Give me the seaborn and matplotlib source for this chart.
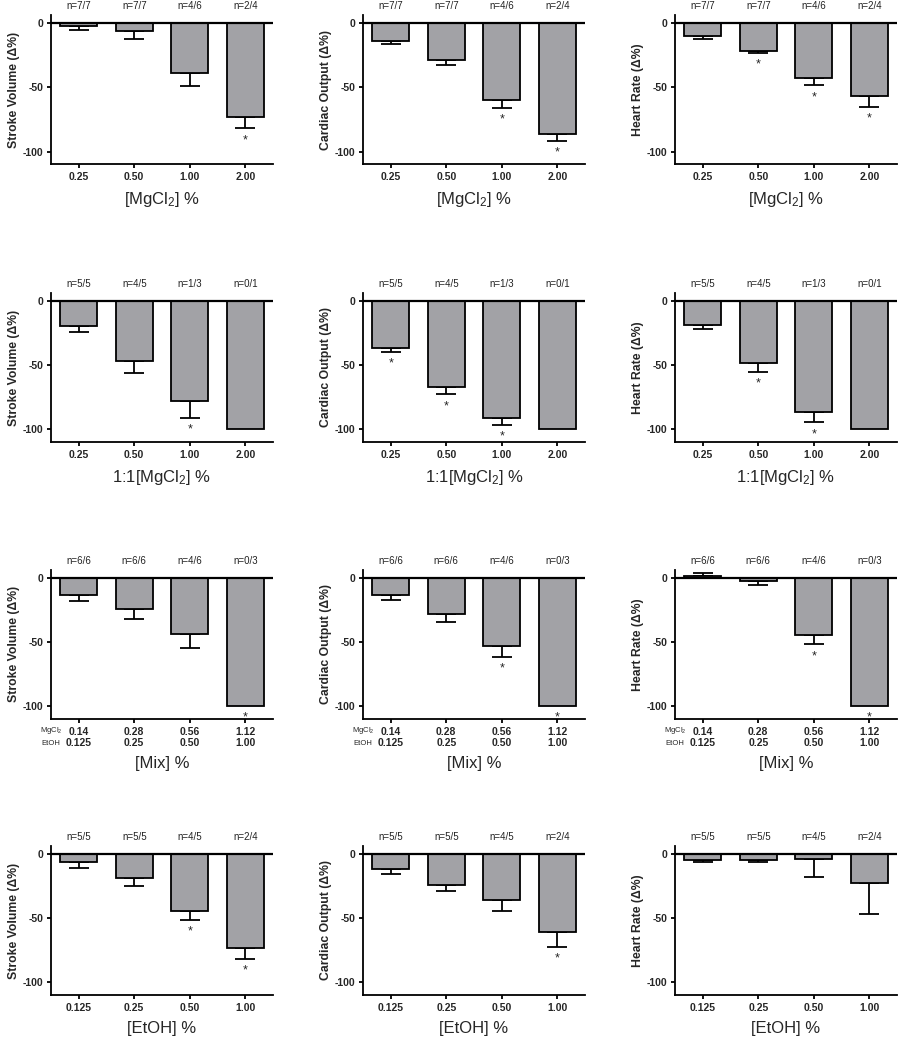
import numpy as np
import pandas as pd
import matplotlib
matplotlib.use("Agg")
import matplotlib.pyplot as plt
import matplotlib.transforms as mtransforms
import seaborn as sns

sns.set_style("ticks")
plt.rcParams['font.family'] = ['Liberation Sans', 'DejaVu Sans']
plt.rcParams['mathtext.fontset'] = 'custom'
plt.rcParams['mathtext.rm'] = 'Liberation Sans'
plt.rcParams['mathtext.it'] = 'Liberation Sans:italic'
plt.rcParams['mathtext.bf'] = 'Liberation Sans:bold'

# ---- datos por fila (dosis) ----
ticks_mg = ['0.25', '0.50', '1.00', '2.00']
ticks_mix = ['0.14\n0.125', '0.28\n0.25', '0.56\n0.50', '1.12\n1.00']
ticks_etoh = ['0.125', '0.25', '0.50', '1.00']

n_mg = ['n=7/7', 'n=7/7', 'n=4/6', 'n=2/4']
n_11 = ['n=5/5', 'n=4/5', 'n=1/3', 'n=0/1']
n_mix = ['n=6/6', 'n=6/6', 'n=4/6', 'n=0/3']
n_etoh = ['n=5/5', 'n=5/5', 'n=4/5', 'n=2/4']

xlab_mg = '[MgCl$_2$] %'
xlab_11 = '1:1[MgCl$_2$] %'
xlab_mix = '[Mix] %'
xlab_etoh = '[EtOH] %'

# MgCl2
sv_mg = [-2, -6, -38.5, -73]
sv_mg_err = [3, 6, 10.5, 9]
sv_mg_star = [0, 0, 0, 1]
co_mg = [-13.8, -28.8, -59.5, -86.5]
co_mg_err = [2.2, 4.2, 6.2, 4.9]
co_mg_star = [0, 0, 1, 1]
hr_mg = [-10.4, -21.4, -43, -57]
hr_mg_err = [1.8, 1.8, 5.4, 8]
hr_mg_star = [0, 1, 1, 1]

# 1:1 MgCl2
sv_11 = [-19.4, -46.9, -77.7, -100]
sv_11_err = [5.2, 9.6, 13.3, 0]
sv_11_star = [0, 0, 1, 0]
co_11 = [-37, -67, -91.4, -100]
co_11_err = [2.7, 6, 5.2, 0]
co_11_star = [1, 1, 1, 0]
hr_11 = [-19.1, -48.8, -87, -100]
hr_11_err = [3.1, 6.8, 7.8, 0]
hr_11_star = [0, 1, 1, 0]

# Mix
sv_mix = [-13.8, -24.2, -44.2, -100]
sv_mix_err = [4.4, 8, 10.8, 0]
sv_mix_star = [0, 0, 0, 1]
co_mix = [-13.5, -28.6, -53.2, -100]
co_mix_err = [4.2, 5.9, 8.4, 0]
co_mix_star = [0, 0, 1, 1]
hr_mix = [1, -2.3, -44.6, -100]
hr_mix_err = [2.6, 3.7, 7.4, 0]
hr_mix_star = [0, 0, 1, 1]

# EtOH
sv_etoh = [-6.6, -19.3, -45, -73.3]
sv_etoh_err = [4.9, 6.1, 6.4, 8.4]
sv_etoh_star = [0, 0, 1, 1]
co_etoh = [-12.2, -24.2, -36, -61]
co_etoh_err = [3.7, 5.2, 8.8, 11.4]
co_etoh_star = [0, 0, 0, 1]
hr_etoh = [-4.8, -4.6, -3.8, -22.7]
hr_etoh_err = [1.8, 1.8, 14.1, 24]
hr_etoh_star = [0, 0, 0, 0]

ylabels = ['Stroke Volume (Δ%)', 'Cardiac Output (Δ%)', 'Heart Rate (Δ%)']

filas = [
    (ticks_mg, n_mg, xlab_mg, [(sv_mg, sv_mg_err, sv_mg_star), (co_mg, co_mg_err, co_mg_star), (hr_mg, hr_mg_err, hr_mg_star)]),
    (ticks_mg, n_11, xlab_11, [(sv_11, sv_11_err, sv_11_star), (co_11, co_11_err, co_11_star), (hr_11, hr_11_err, hr_11_star)]),
    (ticks_mix, n_mix, xlab_mix, [(sv_mix, sv_mix_err, sv_mix_star), (co_mix, co_mix_err, co_mix_star), (hr_mix, hr_mix_err, hr_mix_star)]),
    (ticks_etoh, n_etoh, xlab_etoh, [(sv_etoh, sv_etoh_err, sv_etoh_star), (co_etoh, co_etoh_err, co_etoh_star), (hr_etoh, hr_etoh_err, hr_etoh_star)]),
]

bar_color = '#a2a2a6'
lw = 1.3

fig = plt.figure(figsize=(9.04, 10.4), dpi=100)
lefts = [0.0564, 0.4016, 0.7467]
bottoms = [0.8419, 0.5750, 0.3087, 0.0433]
w, h = 0.2456, 0.1433

for r, (ticks, nlab, xlab, paneles) in enumerate(filas):
    for c, (vals, errs, stars) in enumerate(paneles):
        ax = fig.add_axes([lefts[c], bottoms[r], w, h])
        df = pd.DataFrame({'dosis': ticks, 'valor': vals})
        sns.barplot(data=df, x='dosis', y='valor', order=ticks, color=bar_color,
                    saturation=1, edgecolor='black', linewidth=lw, width=0.66,
                    errorbar=None, ax=ax, zorder=2)
        xs = np.arange(len(vals))
        v = np.array(vals, dtype=float)
        e = np.array(errs, dtype=float)
        m = e > 0
        lower = np.where(v < 0, e, 0)
        upper = np.where(v >= 0, e, 0)
        ax.errorbar(xs[m], v[m], yerr=[lower[m], upper[m]], fmt='none',
                    ecolor='black', elinewidth=lw, capsize=7, capthick=lw, zorder=1)
        ax.axhline(0, color='black', lw=1.6, zorder=3)
        for i in range(len(vals)):
            if stars[i]:
                yend = v[i] - e[i] if v[i] < 0 else v[i]
                ax.text(i, yend - 4.5, '*', ha='center', va='top', fontsize=9)
            ax.text(i, 13, nlab[i], ha='center', va='center', fontsize=7,
                    color='#222222', clip_on=False)
        ax.set_xlim(-0.5, 3.5)
        ax.set_ylim(-110, 6)
        ax.set_yticks([0, -50, -100])
        ax.set_yticklabels(['0', '-50', '-100'])
        sns.despine(ax=ax)
        for s in ['left', 'bottom']:
            ax.spines[s].set_linewidth(lw)
            ax.spines[s].set_color('black')
        ax.tick_params(axis='both', length=3, width=lw, color='black', labelsize=7.5, pad=2.5)
        for t in ax.get_xticklabels() + ax.get_yticklabels():
            t.set_fontweight('bold')
            t.set_linespacing(1.12)
        ax.set_ylabel(ylabels[c], fontsize=8.8, fontweight='bold', labelpad=2)
        ax.set_xlabel(xlab, fontsize=12, labelpad=6)
        if r == 2:
            tr = mtransforms.blended_transform_factory(ax.transData, ax.transAxes)
            ax.text(-0.5, -0.08, 'MgCl$_2$', transform=tr, ha='center', va='center', fontsize=5.5)
            ax.text(-0.5, -0.165, 'EtOH', transform=tr, ha='center', va='center', fontsize=5.5)

fig.savefig('out.png', dpi=100)
